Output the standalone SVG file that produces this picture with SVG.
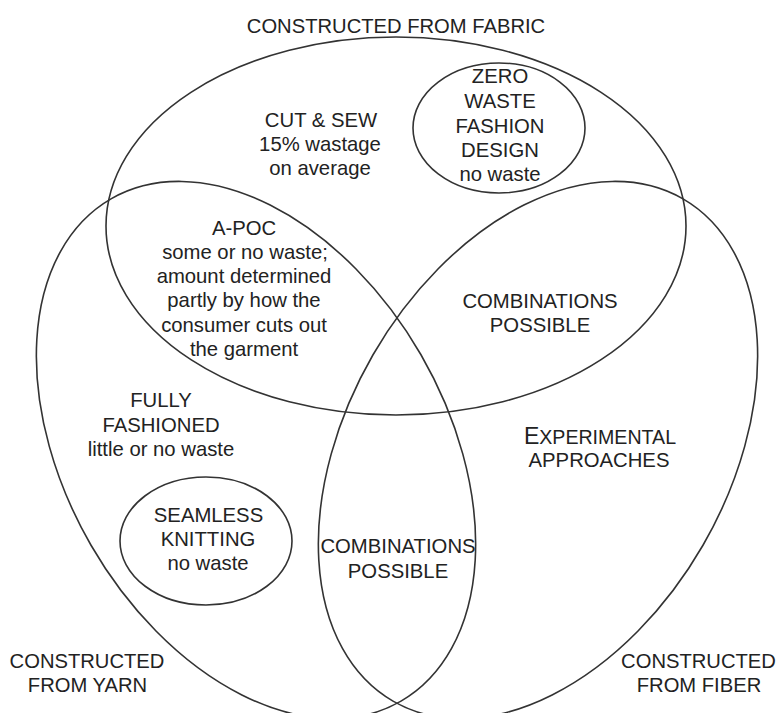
<svg xmlns="http://www.w3.org/2000/svg" width="779" height="713" viewBox="0 0 779 713">
<style>
.shape{fill:none;stroke:#333;stroke-width:1.6}
.t{font-family:"Liberation Sans",Arial,sans-serif;font-size:20.3px;fill:#222;text-anchor:middle}
.o{font-family:"Liberation Sans",Arial,sans-serif;font-size:20.2px;fill:#222;text-anchor:middle}
</style>
<rect width="779" height="713" fill="#fff"/>
<g id="fabric">
<ellipse class="shape" cx="396" cy="226" rx="290" ry="189"/>
<text class="o" x="396" y="33">CONSTRUCTED FROM FABRIC</text>
</g>
<g id="yarn">
<ellipse class="shape" cx="256" cy="450" rx="290" ry="190.5" transform="rotate(60 256 450)"/>
<text class="o" x="87" y="668">CONSTRUCTED</text>
<text class="o" x="87.5" y="692">FROM YARN</text>
</g>
<g id="fiber">
<ellipse class="shape" cx="538" cy="450" rx="290" ry="190.5" transform="rotate(-60 538 450)"/>
<text class="o" x="698.5" y="668">CONSTRUCTED</text>
<text class="o" x="699" y="692">FROM FIBER</text>
</g>
<g id="zero-waste">
<ellipse class="shape" cx="499" cy="128" rx="86" ry="65"/>
<text class="t" x="500" y="83">ZERO</text>
<text class="t" x="500" y="108">WASTE</text>
<text class="t" x="500" y="133">FASHION</text>
<text class="t" x="500" y="157">DESIGN</text>
<text class="t" x="500" y="181">no waste</text>
</g>
<g id="seamless">
<ellipse class="shape" cx="206" cy="541" rx="86" ry="64"/>
<text class="t" x="208.5" y="522">SEAMLESS</text>
<text class="t" x="208" y="546">KNITTING</text>
<text class="t" x="208" y="570">no waste</text>
</g>
<g id="cut-sew">
<text class="t" x="321" y="127">CUT &amp; SEW</text>
<text class="t" x="320" y="151">15% wastage</text>
<text class="t" x="320" y="175">on average</text>
</g>
<g id="apoc">
<text class="t" x="244" y="235">A-POC</text>
<text class="t" x="245" y="259">some or no waste;</text>
<text class="t" x="244" y="283">amount determined</text>
<text class="t" x="244" y="307">partly by how the</text>
<text class="t" x="244" y="332">consumer cuts out</text>
<text class="t" x="244" y="356">the garment</text>
</g>
<g id="combo-top">
<text class="t" x="540" y="308">COMBINATIONS</text>
<text class="t" x="540" y="332">POSSIBLE</text>
</g>
<g id="fully-fashioned">
<text class="t" x="161" y="407">FULLY</text>
<text class="t" x="161" y="432">FASHIONED</text>
<text class="t" x="161" y="456">little or no waste</text>
</g>
<g id="combo-bottom">
<text class="t" x="398" y="553">COMBINATIONS</text>
<text class="t" x="398" y="578">POSSIBLE</text>
</g>
<g id="experimental">
<text class="t" x="600" y="444"><tspan font-size="23">E</tspan><tspan font-size="19.6">XPERIMENTAL</tspan></text>
<text class="t" x="599" y="467">APPROACHES</text>
</g>
<g id="connectors"></g>
</svg>
